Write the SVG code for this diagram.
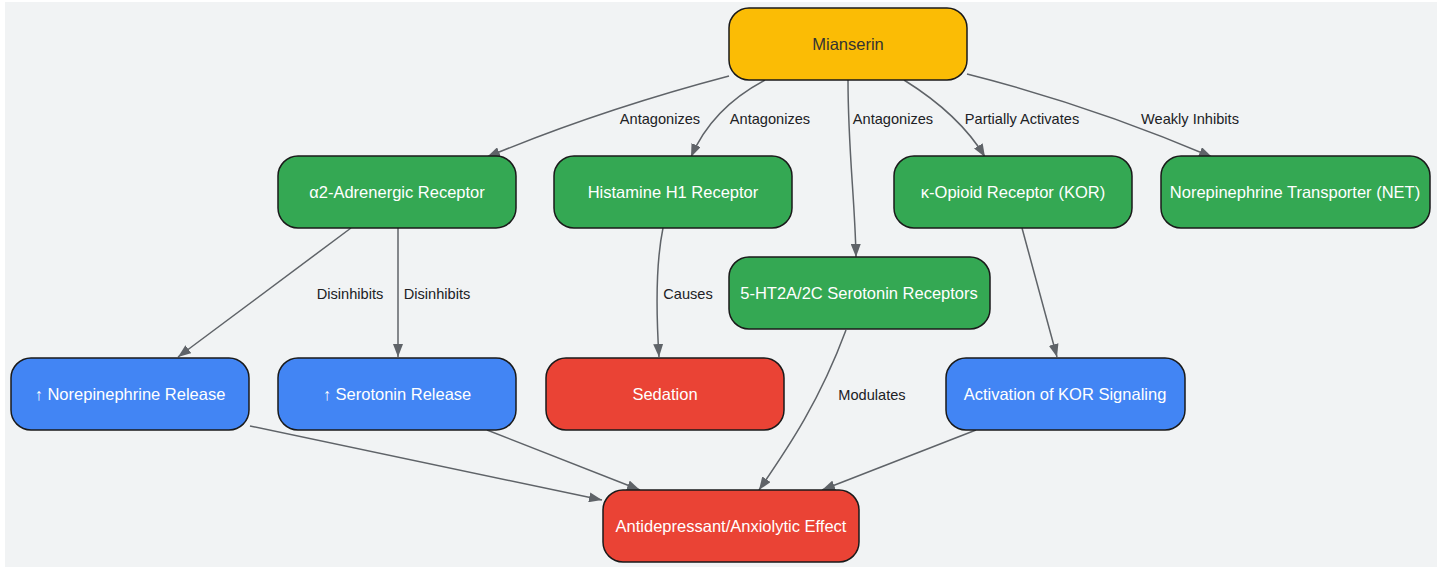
<svg xmlns="http://www.w3.org/2000/svg" width="1442" height="567" viewBox="0 0 1442 567">
<style>
.n rect{stroke:#1a1a1a;stroke-width:1.5}
.n text{font-family:"Liberation Sans",Arial,sans-serif;font-size:16.5px;fill:#ffffff;text-anchor:middle;dominant-baseline:central}
.g rect{fill:#34a853}
.b rect{fill:#4285f4}
.r rect{fill:#ea4335}
.y rect{fill:#fbbc05}
.y text{fill:#333333}
.e path{fill:none;stroke:#5f6368;stroke-width:1.5;marker-end:url(#ah)}
.e text{font-family:"Liberation Sans",Arial,sans-serif;font-size:14.6px;fill:#202124;text-anchor:middle;dominant-baseline:central}
</style>
<defs>
<marker id="ah" viewBox="0 0 13 10" refX="13" refY="5" markerWidth="13" markerHeight="10" markerUnits="userSpaceOnUse" orient="auto">
<path d="M0,0 L13,5 L0,10 z" fill="#5f6368"/>
</marker>
</defs>
<rect x="5" y="2" width="1432" height="565" fill="#f1f3f4"/>
<g id="connectors" class="e">
<path d="M729,76 Q600,110 487,157"/>
<path d="M765,80 Q712,108 691,157"/>
<path d="M848,80 C848,150 855,200 856,257"/>
<path d="M904,80 Q960,115 985,157"/>
<path d="M967,74 Q1090,105 1212,157"/>
<path d="M351,228 L178,357"/>
<path d="M398,228 L398,357"/>
<path d="M663,228 C656,262 656,310 659,357"/>
<path d="M1022,228 L1057,357"/>
<path d="M846,330 C820,400 790,445 759,490"/>
<path d="M250,426 L602,500"/>
<path d="M487,430 L640,490"/>
<path d="M976,430 L822,490"/>
<text x="660" y="119">Antagonizes</text>
<text x="770" y="119">Antagonizes</text>
<text x="893" y="119">Antagonizes</text>
<text x="1022" y="119">Partially Activates</text>
<text x="1190" y="119">Weakly Inhibits</text>
<text x="350" y="294">Disinhibits</text>
<text x="437" y="294">Disinhibits</text>
<text x="688" y="294">Causes</text>
<text x="872" y="395">Modulates</text>
</g>
<g id="mianserin" class="n y"><rect x="729" y="8" width="238" height="72" rx="20"/><text x="848" y="44">Mianserin</text></g>
<g id="alpha2" class="n g"><rect x="278" y="156" width="238" height="72" rx="20"/><text x="397" y="192">α2-Adrenergic Receptor</text></g>
<g id="h1" class="n g"><rect x="554" y="156" width="238" height="72" rx="20"/><text x="673" y="192">Histamine H1 Receptor</text></g>
<g id="kor" class="n g"><rect x="894" y="156" width="238" height="72" rx="20"/><text x="1013" y="192">κ-Opioid Receptor (KOR)</text></g>
<g id="net" class="n g"><rect x="1161" y="156" width="269" height="72" rx="20"/><text x="1295" y="192">Norepinephrine Transporter (NET)</text></g>
<g id="ht2" class="n g"><rect x="729" y="257" width="261" height="72" rx="20"/><text x="859" y="293">5-HT2A/2C Serotonin Receptors</text></g>
<g id="ne_release" class="n b"><rect x="11" y="358" width="238" height="72" rx="20"/><text x="130" y="394">↑ Norepinephrine Release</text></g>
<g id="ser_release" class="n b"><rect x="278" y="358" width="238" height="72" rx="20"/><text x="397" y="394">↑ Serotonin Release</text></g>
<g id="sedation" class="n r"><rect x="546" y="358" width="238" height="72" rx="20"/><text x="665" y="394">Sedation</text></g>
<g id="kor_signal" class="n b"><rect x="946" y="358" width="239" height="72" rx="20"/><text x="1065" y="394">Activation of KOR Signaling</text></g>
<g id="effect" class="n r"><rect x="603" y="490" width="256" height="72" rx="20"/><text x="731" y="526">Antidepressant/Anxiolytic Effect</text></g>
</svg>
